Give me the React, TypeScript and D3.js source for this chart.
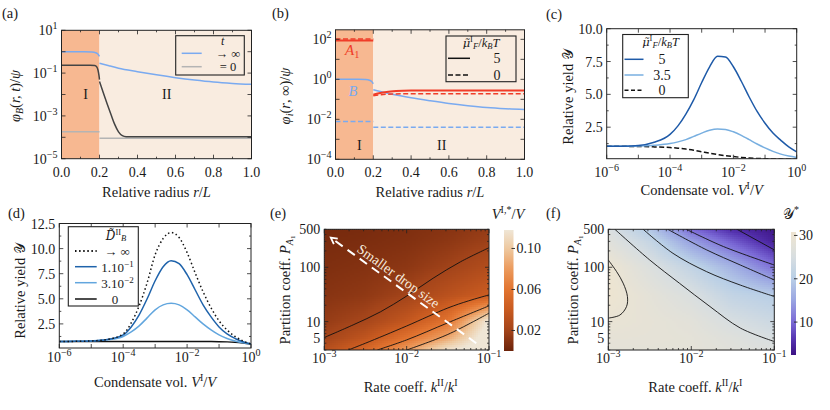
import React from 'react';
import * as d3 from 'd3';

const FONT = '"Liberation Serif", "DejaVu Serif", serif';
const ACCENT_FONT = '"DejaVu Serif", serif';
const INK = '#222';
const TXT = '#1a1a1a';
const SCRIPT_Y = '\u{1D4B4}';
const SCRIPT_FONT = 'serif';

// ---------- (a) concentration of B ----------
const aRadiusTicks = [0, 0.2, 0.4, 0.6, 0.8, 1.0];
const aDecadeLabels = [1, -1, -3, -5];
const aInfI = [[0, 1.0], [0.12, 1.0], [0.16, 0.97], [0.18, 0.9], [0.19, 0.8], [0.2, 0.6]];
const aInfII = [[0.2, 0.29], [0.25, 0.22], [0.3, 0.17], [0.4, 0.117], [0.5, 0.083], [0.6, 0.061], [0.7, 0.047], [0.8, 0.038], [0.9, 0.033], [1.0, 0.03]];
const aFiniteI = [[0, 0.23], [0.15, 0.23], [0.175, 0.225], [0.185, 0.2], [0.192, 0.14], [0.197, 0.08], [0.2, 0.05]];
const aFiniteII = [[0.2, 0.04], [0.22, 0.012], [0.24, 0.0037], [0.26, 0.0012], [0.28, 0.0004], [0.3, 0.00018], [0.32, 0.00012], [0.34, 0.000107], [0.4, 0.000105], [1.0, 0.000105]];
const aZeroI = [[0, 1.8e-4], [0.2, 1.8e-4]];
const aZeroII = [[0.2, 9e-5], [1.0, 9e-5]];

// ---------- (b) steady state profiles ----------
const bDecadeLabels = [2, 0, -2, -4];
const bA1SolidI = [[0, 88], [0.2, 88]];
const bA1DashI = [[0, 105], [0.2, 105]];
const bA1SolidII = [[0.2, 0.17], [0.23, 0.2], [0.27, 0.235], [0.32, 0.26], [0.4, 0.275], [0.6, 0.28], [1.0, 0.28]];
const bA1DashII = [[0.2, 0.15], [0.24, 0.17], [0.3, 0.185], [0.4, 0.19], [1.0, 0.19]];
const bBSolidI = [[0, 1.0], [0.12, 1.0], [0.16, 0.97], [0.18, 0.9], [0.19, 0.8], [0.2, 0.6]];
const bBSolidII = [[0.2, 0.3], [0.3, 0.18], [0.4, 0.12], [0.5, 0.085], [0.6, 0.062], [0.7, 0.048], [0.8, 0.039], [0.9, 0.034], [1.0, 0.031]];
const bBDashI = [[0, 0.0078], [0.2, 0.0078]];
const bBDashII = [[0.2, 0.004], [1.0, 0.004]];

// ---------- (c), (d) relative yield vs condensate volume ----------
const volume = [1e-6, 3.16e-6, 1e-5, 3.16e-5, 1e-4, 1.78e-4, 3.16e-4, 5.62e-4, 1e-3, 1.78e-3, 3.16e-3, 5.62e-3, 1e-2, 1.78e-2, 3.16e-2, 5.62e-2, 1e-1, 1.78e-1, 3.16e-1, 5.62e-1, 1];
const volDecadeLabels = [-6, -4, -2, 0];
const cYield5 = [1.04, 1.05, 1.1, 1.35, 1.95, 2.6, 3.5, 4.6, 5.9, 7.1, 7.9, 7.85, 7.1, 6.0, 4.8, 3.7, 2.8, 2.05, 1.5, 1.0, 0.62];
const cYield35 = [1.04, 1.04, 1.06, 1.12, 1.25, 1.38, 1.55, 1.8, 2.05, 2.27, 2.37, 2.33, 2.15, 1.88, 1.55, 1.22, 0.92, 0.66, 0.45, 0.3, 0.2];
const cYield0 = [1.04, 1.04, 1.03, 1.0, 0.95, 0.9, 0.83, 0.74, 0.63, 0.52, 0.42, 0.33, 0.26, 0.2, 0.15, 0.12, 0.1, 0.08, 0.07, 0.06, 0.05];
const cYTicks = [2.5, 5.0, 7.5, 10.0];
const dYieldInf = [0.75, 0.76, 0.8, 0.95, 1.5, 2.6, 4.3, 6.6, 9.4, 11.0, 11.6, 11.1, 9.6, 7.6, 5.7, 4.1, 2.8, 1.9, 1.25, 0.8, 0.5];
const dYield1 = [0.75, 0.76, 0.8, 0.95, 1.4, 2.2, 3.4, 5.0, 6.8, 8.2, 8.8, 8.5, 7.4, 5.9, 4.4, 3.2, 2.2, 1.5, 1.05, 0.72, 0.5];
const dYield3 = [0.75, 0.76, 0.8, 0.92, 1.25, 1.7, 2.3, 3.1, 3.9, 4.4, 4.55, 4.4, 3.9, 3.2, 2.5, 1.9, 1.4, 1.05, 0.8, 0.62, 0.5];
const dYield0 = [0.74, 0.74, 0.74, 0.74, 0.74, 0.74, 0.74, 0.74, 0.74, 0.74, 0.74, 0.74, 0.74, 0.74, 0.74, 0.74, 0.73, 0.71, 0.67, 0.6, 0.5];
const dYTicks = [2.5, 5.0, 7.5, 10.0, 12.5];

// ---------- (e), (f) maps over rate coeff. and partition coeff. ----------
const rateGrid = [1e-3, 3.16e-3, 1e-2, 3.16e-2, 1e-1];
const partGrid = [3, 5, 10, 30, 100, 300, 500];
const rateDecadeLabels = [-3, -2, -1];
const partLabels = [5, 10, 100, 500];
const eVolume = [
  [0.030, 0.050, 0.080, 0.115, 0.130],
  [0.020, 0.035, 0.058, 0.085, 0.130],
  [0.015, 0.022, 0.037, 0.059, 0.120],
  [0.010, 0.013, 0.020, 0.032, 0.042],
  [0.007, 0.009, 0.012, 0.019, 0.028],
  [0.005, 0.006, 0.008, 0.012, 0.018],
  [0.004, 0.005, 0.007, 0.010, 0.015],
];
const eContours = [
  [[1e-3, 5.1], [2.24e-3, 8.7], [4.8e-3, 15.1], [1e-2, 29.5], [2.1e-2, 63], [4.5e-2, 126], [1e-1, 229]],
  [[1.95e-3, 3], [3.16e-3, 4], [1e-2, 8.3], [3.16e-2, 17.8], [5.6e-2, 24], [1e-1, 31]],
  [[4.4e-3, 3], [1e-2, 4.6], [3.16e-2, 9.5], [1e-1, 19.5]],
  [[1e-2, 3], [3.16e-2, 5.8], [1e-1, 14.3]],
];
const eColorbarTicks = [0.02, 0.06, 0.10];
const eArrow = [[0.07, 4.0], [1.2e-3, 350]];
const fYield = [
  [28.0, 28.0, 28.0, 27.0, 26.0],
  [28.5, 28.3, 28.0, 26.5, 24.8],
  [29.3, 28.5, 27.5, 24.8, 23.0],
  [30.5, 28.0, 25.5, 21.5, 19.8],
  [30.2, 26.0, 21.5, 16.5, 10.5],
  [27.0, 22.0, 14.5, 9.0, 4.0],
  [25.5, 19.0, 10.0, 5.0, 3.0],
];
const fContours = [
  [[1e-3, 136], [1.26e-3, 83], [1.51e-3, 51], [1.7e-3, 29], [1.66e-3, 19], [1.38e-3, 13.2], [1e-3, 11.6]],
  [[1.2e-3, 500], [3.16e-3, 136], [7.2e-3, 50.8], [1.68e-2, 18.9], [3.9e-2, 7.6], [1e-1, 4.3]],
  [[2.63e-3, 500], [6e-3, 181], [1.53e-2, 83], [3.9e-2, 47], [1e-1, 29]],
  [[5.2e-3, 500], [1.53e-2, 209], [3.9e-2, 110], [1e-1, 58.5]],
  [[8.7e-3, 500], [2.45e-2, 240], [1e-1, 110]],
  [[3.55e-2, 500], [1e-1, 209]],
];
const fColorbarTicks = [10, 20, 30];

const BLUE = '#7aaaf0';
const RED = '#f03c28';
const PEACH = '#f7b891';
const BEIGE = '#f9ece0';

const eColor = d3.scaleLinear<string>()
  .domain([0, 0.02, 0.04, 0.06, 0.08, 0.10, 0.118])
  .range(['#6b230a', '#a3441a', '#c85a20', '#e27430', '#ec9a5c', '#eec9a0', '#efe6d6'])
  .clamp(true);
const fColor = d3.scaleLinear<string>()
  .domain([2.4, 6, 10, 15, 20, 25, 30, 30.8])
  .range(['#3c1283', '#5533b0', '#7b6ad6', '#9aa5e2', '#b9cfe6', '#d8dee0', '#ece4d2', '#eee3cf'])
  .clamp(true);

const linePath = (pts: number[][], sx: any, sy: any, curve: any = d3.curveMonotoneX) =>
  d3.line<number[]>().x((d) => sx(d[0])).y((d) => sy(d[1])).curve(curve)(pts) || '';

const zip = (xs: number[], ys: number[]) => xs.map((x, i) => [x, ys[i]]);

const minus = (e: number) => (e < 0 ? '\u2212' + -e : String(e));

function Pow({ x, y, e, anchor = 'middle', size = 14 }: any) {
  return (
    <text x={x} y={y} textAnchor={anchor} fontSize={size} fill={TXT}>
      10<tspan dy={-size * 0.42} fontSize={size * 0.72}>{minus(e)}</tspan>
    </text>
  );
}

function Frame({ x0, x1, y0, y1, xt, yt }: any) {
  return (
    <g stroke={INK} strokeWidth={0.8}>
      {xt.map(([p, l]: number[], i: number) => (
        <g key={'x' + i}>
          <line x1={p} x2={p} y1={y1} y2={y1 - l} />
          <line x1={p} x2={p} y1={y0} y2={y0 + l} />
        </g>
      ))}
      {yt.map(([p, l]: number[], i: number) => (
        <g key={'y' + i}>
          <line x1={x0} x2={x0 + l} y1={p} y2={p} />
          <line x1={x1} x2={x1 - l} y1={p} y2={p} />
        </g>
      ))}
      <rect x={x0} y={y0} width={x1 - x0} height={y1 - y0} fill="none" strokeWidth={1} />
    </g>
  );
}

function YLabel({ x, y, children }: any) {
  return (
    <text transform={`translate(${x},${y}) rotate(-90)`} textAnchor="middle" fontSize={14.5} fill={TXT}>
      {children}
    </text>
  );
}

function MuTitle({ x, y }: any) {
  return (
    <text x={x} y={y} fontSize={12.5} textAnchor="middle" fill={TXT}>
      <tspan fontStyle="italic" style={{ fontFamily: ACCENT_FONT }} fontSize={11.5}>{'\u03BC\u0303'}</tspan>
      <tspan fontSize={8.5} dy={-5}>I</tspan>
      <tspan fontSize={8.5} fontStyle="italic" dy={7}>F</tspan>
      <tspan dy={-2}>/</tspan><tspan fontStyle="italic">k</tspan>
      <tspan fontSize={8.5} fontStyle="italic" dy={2}>B</tspan>
      <tspan fontStyle="italic" dy={-2}>T</tspan>
    </text>
  );
}

function Heatmap({ grid, color, sx, sy }: any) {
  const lx = rateGrid.map(Math.log10);
  const ly = partGrid.map(Math.log10);
  const [x0, x1] = sx.range();
  const [yb, yt] = sy.range();
  const step = 2;
  const seg = (arr: number[], v: number) => {
    let i = 0;
    while (i < arr.length - 2 && v > arr[i + 1]) i++;
    return i;
  };
  const cl = (v: number) => Math.max(0, Math.min(1, v));
  const cells: any[] = [];
  for (let px = x0; px < x1; px += step) {
    const u = Math.log10(sx.invert(Math.min(px + step / 2, x1)));
    const i = seg(lx, u);
    const fu = cl((u - lx[i]) / (lx[i + 1] - lx[i]));
    for (let py = yt; py < yb; py += step) {
      const v = Math.log10(sy.invert(Math.min(py + step / 2, yb)));
      const j = seg(ly, v);
      const fv = cl((v - ly[j]) / (ly[j + 1] - ly[j]));
      const val =
        (1 - fu) * (1 - fv) * grid[j][i] + fu * (1 - fv) * grid[j][i + 1] +
        (1 - fu) * fv * grid[j + 1][i] + fu * fv * grid[j + 1][i + 1];
      cells.push(
        <rect key={px + '_' + py} x={px} y={py} width={Math.min(step, x1 - px) + 0.4}
          height={Math.min(step, yb - py) + 0.4} fill={color(val)} />
      );
    }
  }
  return <g shapeRendering="crispEdges">{cells}</g>;
}

function PanelA() {
  const sx = d3.scaleLinear().domain([0, 1]).range([61.5, 251.5]);
  const sy = d3.scaleLog().domain([1e-5, 10]).range([158.7, 30.3]);
  const [x0, x1] = sx.range();
  const [y1, y0] = sy.range();
  const xt = d3.range(0, 1.01, 0.1).map((v, i) => [sx(v), i % 2 === 0 ? 4 : 2]);
  const yt = d3.range(-5, 2).map((e) => [sy(Math.pow(10, e)), 4]);
  const lp = (p: number[][]) => linePath(p, sx, sy);
  return (
    <g>
      <clipPath id="clipA"><rect x={x0} y={y0} width={x1 - x0} height={y1 - y0} /></clipPath>
      <rect x={sx(0)} y={y0} width={sx(0.2) - sx(0)} height={y1 - y0} fill={PEACH} />
      <rect x={sx(0.2)} y={y0} width={sx(1) - sx(0.2)} height={y1 - y0} fill={BEIGE} />
      <g clipPath="url(#clipA)" fill="none" strokeWidth={1.5}>
        <path d={lp(aZeroI)} stroke="#b4b4b4" />
        <path d={lp(aZeroII)} stroke="#b4b4b4" />
        <path d={lp(aFiniteI)} stroke="#444" />
        <path d={lp(aFiniteII)} stroke="#444" />
        <path d={lp(aInfI)} stroke={BLUE} />
        <path d={lp(aInfII)} stroke={BLUE} />
      </g>
      <text x={85.5} y={99} fontSize={14} textAnchor="middle" fill={TXT}>I</text>
      <text x={166.7} y={99} fontSize={14} textAnchor="middle" fill={TXT}>II</text>
      <Frame x0={x0} x1={x1} y0={y0} y1={y1} xt={xt} yt={yt} />
      {/* legend */}
      <rect x={175.7} y={35.7} width={68.6} height={39.3} fill="none" stroke={INK} strokeWidth={1.1} />
      <text x={222.7} y={44.5} fontSize={12} fontStyle="italic" textAnchor="middle" fill={TXT}>t</text>
      <line x1={181.7} x2={201.7} y1={53.3} y2={53.3} stroke={BLUE} strokeWidth={1.5} />
      <text x={228} y={57.8} fontSize={12.5} textAnchor="middle" fill={TXT}>{'\u2192 \u221E'}</text>
      <line x1={181.7} x2={201.7} y1={66.7} y2={66.7} stroke="#b4b4b4" strokeWidth={1.5} />
      <text x={228} y={71.3} fontSize={12.5} textAnchor="middle" fill={TXT}>= 0</text>
      {aRadiusTicks.map((v) => (
        <text key={v} x={sx(v)} y={176.5} fontSize={14} textAnchor="middle" fill={TXT}>{v.toFixed(1)}</text>
      ))}
      {aDecadeLabels.map((e) => (
        <Pow key={e} x={x0 - 4} y={sy(Math.pow(10, e)) + 5} e={e} anchor="end" />
      ))}
      <text x={(x0 + x1) / 2} y={196.5} fontSize={14.5} textAnchor="middle" fill={TXT}>
        Relative radius <tspan fontStyle="italic">r</tspan>/<tspan fontStyle="italic">L</tspan>
      </text>
      <YLabel x={20} y={96}>
        <tspan fontStyle="italic">{'\u03C6'}</tspan>
        <tspan fontStyle="italic" fontSize={10} dy={3}>B</tspan>
        <tspan dy={-3}>(</tspan><tspan fontStyle="italic">r, t</tspan>)/<tspan fontStyle="italic">{'\u03C8'}</tspan>
      </YLabel>
      <text x={2} y={18} fontSize={14.5} fill={TXT}>(a)</text>
    </g>
  );
}

function PanelB() {
  const sx = d3.scaleLinear().domain([0, 1]).range([335.5, 524.5]);
  const sy = d3.scaleLog().domain([1e-4, 300]).range([159.3, 29.8]);
  const [x0, x1] = sx.range();
  const [y1, y0] = sy.range();
  const xt = d3.range(0, 1.01, 0.1).map((v, i) => [sx(v), i % 2 === 0 ? 4 : 2]);
  const yt = d3.range(-4, 3).map((e) => [sy(Math.pow(10, e)), 4]);
  const lp = (p: number[][]) => linePath(p, sx, sy);
  return (
    <g>
      <clipPath id="clipB"><rect x={x0} y={y0} width={x1 - x0} height={y1 - y0} /></clipPath>
      <rect x={sx(0)} y={y0} width={sx(0.2) - sx(0)} height={y1 - y0} fill={PEACH} />
      <rect x={sx(0.2)} y={y0} width={sx(1) - sx(0.2)} height={y1 - y0} fill={BEIGE} />
      <g clipPath="url(#clipB)" fill="none" strokeWidth={1.5}>
        <path d={lp(bBDashI)} stroke={BLUE} strokeDasharray="5,2.5" />
        <path d={lp(bBDashII)} stroke={BLUE} strokeDasharray="5,2.5" />
        <path d={lp(bBSolidI)} stroke={BLUE} />
        <path d={lp(bBSolidII)} stroke={BLUE} />
        <path d={lp(bA1SolidI)} stroke={RED} strokeWidth={2} />
        <path d={lp(bA1SolidII)} stroke={RED} strokeWidth={2} />
        <path d={lp(bA1DashI)} stroke={RED} strokeDasharray="5,2.5" />
        <path d={lp(bA1DashII)} stroke={RED} strokeDasharray="5,2.5" />
      </g>
      <text x={345} y={55} fontSize={15} fill={RED} fontStyle="italic">A<tspan fontStyle="normal" fontSize={10.5} dy={3}>1</tspan></text>
      <text x={348.5} y={96} fontSize={14.5} fill={BLUE} fontStyle="italic">B</text>
      <text x={359.3} y={150} fontSize={14} textAnchor="middle" fill={TXT}>I</text>
      <text x={441.7} y={150} fontSize={14} textAnchor="middle" fill={TXT}>II</text>
      <Frame x0={x0} x1={x1} y0={y0} y1={y1} xt={xt} yt={yt} />
      <rect x={446} y={36} width={70} height={45.7} fill="none" stroke={INK} strokeWidth={1.1} />
      <MuTitle x={481} y={46.5} />
      <line x1={448} x2={470} y1={58.3} y2={58.3} stroke="#111" strokeWidth={1.5} />
      <text x={497} y={63.3} fontSize={14} textAnchor="middle" fill={TXT}>5</text>
      <line x1={448} x2={470} y1={75} y2={75} stroke="#111" strokeWidth={1.5} strokeDasharray="5,2.5" />
      <text x={497} y={80} fontSize={14} textAnchor="middle" fill={TXT}>0</text>
      {aRadiusTicks.map((v) => (
        <text key={v} x={sx(v)} y={176.5} fontSize={14} textAnchor="middle" fill={TXT}>{v.toFixed(1)}</text>
      ))}
      {bDecadeLabels.map((e) => (
        <Pow key={e} x={x0 - 4} y={sy(Math.pow(10, e)) + 5} e={e} anchor="end" />
      ))}
      <text x={(x0 + x1) / 2} y={196.5} fontSize={14.5} textAnchor="middle" fill={TXT}>
        Relative radius <tspan fontStyle="italic">r</tspan>/<tspan fontStyle="italic">L</tspan>
      </text>
      <YLabel x={290} y={96}>
        <tspan fontStyle="italic">{'\u03C6'}</tspan>
        <tspan fontStyle="italic" fontSize={10} dy={3}>i</tspan>
        <tspan dy={-3}>(</tspan><tspan fontStyle="italic">r</tspan>, {'\u221E'})/<tspan fontStyle="italic">{'\u03C8'}</tspan>
      </YLabel>
      <text x={272} y={18} fontSize={14.5} fill={TXT}>(b)</text>
    </g>
  );
}

function YieldAxes({ sx, sy, yTicks, xLabelY }: any) {
  const [x0, x1] = sx.range();
  const [y1, y0] = sy.range();
  const xt = d3.range(-6, 1).map((e) => [sx(Math.pow(10, e)), 4]);
  const yt: number[][] = [];
  yTicks.forEach((v: number) => { yt.push([sy(v), 4]); yt.push([sy(v - 1.25), 2]); });
  return (
    <g>
      <Frame x0={x0} x1={x1} y0={y0} y1={y1} xt={xt} yt={yt} />
      {volDecadeLabels.map((e) => (
        <Pow key={e} x={sx(Math.pow(10, e))} y={xLabelY} e={e} />
      ))}
      {yTicks.map((v: number) => (
        <text key={v} x={x0 - 4} y={sy(v) + 5} fontSize={14} textAnchor="end" fill={TXT}>{v.toFixed(1)}</text>
      ))}
    </g>
  );
}

function PanelC() {
  const sx = d3.scaleLog().domain([1e-6, 1]).range([606.7, 796.7]);
  const sy = d3.scaleLinear().domain([0.1, 10]).range([158.7, 28.7]);
  const [x0, x1] = sx.range();
  const [y1, y0] = sy.range();
  const lp = (v: number[]) => linePath(zip(volume, v), sx, sy);
  return (
    <g>
      <clipPath id="clipC"><rect x={x0} y={y0} width={x1 - x0} height={y1 - y0} /></clipPath>
      <g clipPath="url(#clipC)" fill="none" strokeWidth={1.5}>
        <path d={lp(cYield0)} stroke="#111" strokeDasharray="5,2.5" />
        <path d={lp(cYield35)} stroke="#78afe0" />
        <path d={lp(cYield5)} stroke="#1e5aa8" />
      </g>
      <YieldAxes sx={sx} sy={sy} yTicks={cYTicks} xLabelY={176.5} />
      <rect x={622.7} y={34.5} width={65.6} height={63.2} fill="#fff" stroke={INK} strokeWidth={1.1} />
      <MuTitle x={660.5} y={46} />
      <line x1={624.5} x2={643.5} y1={59.3} y2={59.3} stroke="#1e5aa8" strokeWidth={1.5} />
      <text x={662} y={64.3} fontSize={14} textAnchor="middle" fill={TXT}>5</text>
      <line x1={624.5} x2={643.5} y1={75} y2={75} stroke="#78afe0" strokeWidth={1.5} />
      <text x={662} y={80} fontSize={14} textAnchor="middle" fill={TXT}>3.5</text>
      <line x1={624.5} x2={643.5} y1={90.3} y2={90.3} stroke="#111" strokeWidth={1.5} strokeDasharray="4,2.5" />
      <text x={662} y={95.3} fontSize={14} textAnchor="middle" fill={TXT}>0</text>
      <text x={(x0 + x1) / 2} y={195} fontSize={14.5} textAnchor="middle" fill={TXT}>
        Condensate vol. <tspan fontStyle="italic">V</tspan><tspan fontSize={10} dy={-6}>I</tspan><tspan dy={6}>/</tspan><tspan fontStyle="italic">V</tspan>
      </text>
      <YLabel x={573} y={97}>
        Relative yield <tspan style={{ fontFamily: SCRIPT_FONT }} fontSize={14}>{SCRIPT_Y}</tspan>
      </YLabel>
      <text x={546} y={19} fontSize={14.5} fill={TXT}>(c)</text>
    </g>
  );
}

function PanelD() {
  const sx = d3.scaleLog().domain([1e-6, 1]).range([59.3, 251]);
  const sy = d3.scaleLinear().domain([0.1, 12.5]).range([348, 223.5]);
  const [x0, x1] = sx.range();
  const [y1, y0] = sy.range();
  const lp = (v: number[]) => linePath(zip(volume, v), sx, sy);
  const lx0 = 75, lx1 = 96.7;
  return (
    <g>
      <clipPath id="clipD"><rect x={x0} y={y0} width={x1 - x0} height={y1 - y0} /></clipPath>
      <g clipPath="url(#clipD)" fill="none" strokeWidth={1.5}>
        <path d={lp(dYield0)} stroke="#111" />
        <path d={lp(dYield3)} stroke="#62a6de" />
        <path d={lp(dYield1)} stroke="#1f63ab" />
        <path d={lp(dYieldInf)} stroke="#111" strokeDasharray="1.5,2.6" />
      </g>
      <YieldAxes sx={sx} sy={sy} yTicks={dYTicks} xLabelY={362} />
      <rect x={68.3} y={226.7} width={70} height={79.3} fill="#fff" stroke={INK} strokeWidth={1.1} />
      <text x={116} y={240} fontSize={13} textAnchor="middle" fill={TXT}>
        <tspan fontStyle="italic" style={{ fontFamily: ACCENT_FONT }} fontSize={12}>{'D\u0303'}</tspan>
        <tspan fontSize={8.5} dy={-5}>II</tspan>
        <tspan fontSize={8.5} fontStyle="italic" dy={6}>B</tspan>
      </text>
      <line x1={lx0} x2={lx1} y1={251} y2={251} stroke="#111" strokeWidth={1.8} strokeDasharray="1.5,2.6" />
      <text x={117} y={255.5} fontSize={13} textAnchor="middle" fill={TXT}>{'\u2192 \u221E'}</text>
      <line x1={lx0} x2={lx1} y1={266.7} y2={266.7} stroke="#1f63ab" strokeWidth={1.5} />
      <text x={117.5} y={271.5} fontSize={13} textAnchor="middle" fill={TXT}>1.10<tspan fontSize={9} dy={-5}>{'\u22121'}</tspan></text>
      <line x1={lx0} x2={lx1} y1={282.7} y2={282.7} stroke="#62a6de" strokeWidth={1.5} />
      <text x={117.5} y={287.5} fontSize={13} textAnchor="middle" fill={TXT}>3.10<tspan fontSize={9} dy={-5}>{'\u22122'}</tspan></text>
      <line x1={lx0} x2={lx1} y1={299} y2={299} stroke="#111" strokeWidth={1.5} />
      <text x={115} y={303.5} fontSize={13} textAnchor="middle" fill={TXT}>0</text>
      <text x={(x0 + x1) / 2} y={386.5} fontSize={14.5} textAnchor="middle" fill={TXT}>
        Condensate vol. <tspan fontStyle="italic">V</tspan><tspan fontSize={10} dy={-6}>I</tspan><tspan dy={6}>/</tspan><tspan fontStyle="italic">V</tspan>
      </text>
      <YLabel x={25} y={291}>
        Relative yield <tspan style={{ fontFamily: SCRIPT_FONT }} fontSize={14}>{SCRIPT_Y}</tspan>
      </YLabel>
      <text x={8} y={218} fontSize={14.5} fill={TXT}>(d)</text>
    </g>
  );
}

function MapAxes({ sx, sy }: any) {
  const [x0, x1] = sx.range();
  const [y1, y0] = sy.range();
  const isDecade = (v: number) => Math.abs(Math.log10(v) - Math.round(Math.log10(v))) < 1e-6;
  const xt = sx.ticks().map((v: number) => [sx(v), isDecade(v) ? 4 : 2]);
  const yt = sy.ticks().map((v: number) => [sy(v), isDecade(v) ? 4 : 2]);
  return (
    <g>
      <Frame x0={x0} x1={x1} y0={y0} y1={y1} xt={xt} yt={yt} />
      {rateDecadeLabels.map((e) => (
        <Pow key={e} x={sx(Math.pow(10, e))} y={362.5} e={e} />
      ))}
      {partLabels.map((v) => (
        <text key={v} x={x0 - 4} y={sy(v) + 5} fontSize={14} textAnchor="end" fill={TXT}>{v}</text>
      ))}
      <text x={(x0 + x1) / 2 + 4} y={392} fontSize={14.5} textAnchor="middle" fill={TXT}>
        Rate coeff. <tspan fontStyle="italic">k</tspan><tspan fontSize={10} dy={-6}>II</tspan><tspan dy={6}>/</tspan><tspan fontStyle="italic">k</tspan><tspan fontSize={10} dy={-6}>I</tspan>
      </text>
    </g>
  );
}

function PartLabel({ x, y }: any) {
  return (
    <YLabel x={x} y={y}>
      Partition coeff. <tspan fontStyle="italic">P</tspan>
      <tspan fontStyle="italic" fontSize={10} dy={3}>A</tspan>
      <tspan fontSize={7} dy={2}>1</tspan>
    </YLabel>
  );
}

function Colorbar({ id, x, w, y0, y1, color, domain, ticks, fmt }: any) {
  const sc = d3.scaleLinear().domain(domain).range([y1, y0]);
  const stops = d3.range(0, 21).map((i) => domain[0] + (i / 20) * (domain[1] - domain[0]));
  return (
    <g>
      <linearGradient id={id} x1="0" y1="1" x2="0" y2="0">
        {stops.map((v, i) => <stop key={i} offset={i / 20} stopColor={color(v)} />)}
      </linearGradient>
      <rect x={x} y={y0} width={w} height={y1 - y0} fill={`url(#${id})`} />
      {ticks.map((v: number) => (
        <g key={v}>
          <line x1={x + w - 2} x2={x + w + 1.5} y1={sc(v)} y2={sc(v)} stroke={INK} strokeWidth={0.9} />
          <text x={x + w + 3} y={sc(v) + 5} fontSize={14} fill={TXT}>{fmt(v)}</text>
        </g>
      ))}
    </g>
  );
}

function PanelE() {
  const sx = d3.scaleLog().domain([1e-3, 1e-1]).range([324.3, 489]);
  const sy = d3.scaleLog().domain([3, 500]).range([350, 229.3]);
  const [x0, x1] = sx.range();
  const [y1, y0] = sy.range();
  const [tail, tip] = eArrow;
  const tx = sx(tail[0]), ty = sy(tail[1]), hx = sx(tip[0]), hy = sy(tip[1]);
  const ang = Math.atan2(ty - hy, tx - hx);
  const ux = Math.cos(ang), uy = Math.sin(ang);
  const head = 7;
  const h1 = [hx + head * Math.cos(ang + 0.5), hy + head * Math.sin(ang + 0.5)];
  const h2 = [hx + head * Math.cos(ang - 0.5), hy + head * Math.sin(ang - 0.5)];
  const len = Math.hypot(tx - hx, ty - hy);
  const cx = hx + ux * len * 0.43 + uy * 8.5;
  const cy = hy + uy * len * 0.43 - ux * 8.5;
  return (
    <g>
      <clipPath id="clipE"><rect x={x0} y={y0} width={x1 - x0} height={y1 - y0} /></clipPath>
      <g clipPath="url(#clipE)">
        <Heatmap grid={eVolume} color={eColor} sx={sx} sy={sy} />
        {eContours.map((c, i) => (
          <path key={i} d={linePath(c, sx, sy, d3.curveCatmullRom)} fill="none" stroke="#111" strokeWidth={0.9} />
        ))}
        <line x1={tx} y1={ty} x2={hx + ux * 3} y2={hy + uy * 3} stroke="#fff" strokeWidth={2} strokeDasharray="9,6" />
        <polyline points={`${h1[0]},${h1[1]} ${hx},${hy} ${h2[0]},${h2[1]}`} fill="none" stroke="#fff" strokeWidth={1.8} />
        <text transform={`translate(${cx},${cy}) rotate(${(ang * 180) / Math.PI})`} textAnchor="middle"
          dominantBaseline="central" fontSize={14} fill="#f6e9dc">Smaller drop size</text>
      </g>
      <MapAxes sx={sx} sy={sy} />
      <Colorbar id="cbE" x={504} w={9.5} y0={230} y1={351} color={eColor} domain={[0, 0.118]}
        ticks={eColorbarTicks} fmt={(v: number) => v.toFixed(2)} />
      <text x={508} y={219} fontSize={14.5} textAnchor="middle" fill={TXT}>
        <tspan fontStyle="italic">V</tspan><tspan fontSize={10} dy={-6}>I,*</tspan><tspan dy={6}>/</tspan><tspan fontStyle="italic">V</tspan>
      </text>
      <PartLabel x={290} y={290} />
      <text x={270} y={218} fontSize={14.5} fill={TXT}>(e)</text>
    </g>
  );
}

function PanelF() {
  const sx = d3.scaleLog().domain([1e-3, 1e-1]).range([608.3, 774.3]);
  const sy = d3.scaleLog().domain([3, 500]).range([350, 229.3]);
  const [x0, x1] = sx.range();
  const [y1, y0] = sy.range();
  return (
    <g>
      <clipPath id="clipF"><rect x={x0} y={y0} width={x1 - x0} height={y1 - y0} /></clipPath>
      <g clipPath="url(#clipF)">
        <Heatmap grid={fYield} color={fColor} sx={sx} sy={sy} />
        {fContours.map((c, i) => (
          <path key={i} d={linePath(c, sx, sy, d3.curveCatmullRom)} fill="none" stroke="#111" strokeWidth={0.9} />
        ))}
      </g>
      <MapAxes sx={sx} sy={sy} />
      <Colorbar id="cbF" x={791} w={5} y0={232} y1={355} color={fColor} domain={[2.4, 30.8]}
        ticks={fColorbarTicks} fmt={(v: number) => String(v)} />
      <text x={791} y={219} fontSize={14.5} textAnchor="middle" fill={TXT}>
        <tspan style={{ fontFamily: SCRIPT_FONT }} fontSize={14}>{SCRIPT_Y}</tspan><tspan fontSize={10} dy={-6}>*</tspan>
      </text>
      <PartLabel x={578} y={290} />
      <text x={546} y={218} fontSize={14.5} fill={TXT}>(f)</text>
    </g>
  );
}

export default function App() {
  return (
    <svg width={830} height={410}
      style={{ position: 'absolute', left: 0, top: 0, background: '#fff', fontFamily: FONT }}>
      <PanelA />
      <PanelB />
      <PanelC />
      <PanelD />
      <PanelE />
      <PanelF />
    </svg>
  );
}
